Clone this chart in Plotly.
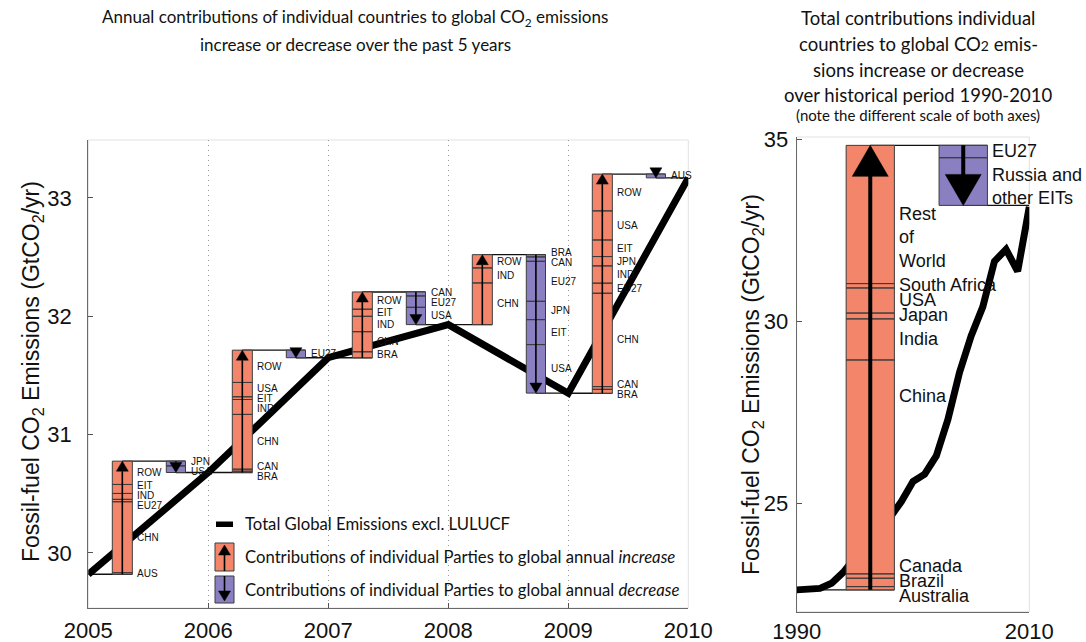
import plotly.graph_objects as go

W, H = 1086, 642

# ---------------- DATA : left panel (annual, GtCO2/yr) ----------------
years = [2005, 2006, 2007, 2008, 2009, 2010]
total_left = [29.82, 30.68, 31.65, 31.93, 31.35, 33.17]

# increases listed bottom -> top, decreases listed top -> bottom
inc_names_2005 = ["AUS", "CHN", "EU27", "IND", "EIT", "ROW"]
inc_vals_2005 = [0.013, 0.600, 0.020, 0.050, 0.076, 0.197]
dec_names_2005 = ["JPN", "USA"]
dec_vals_2005 = [0.040, 0.056]

inc_names_2006 = ["BRA", "CAN", "CHN", "IND", "EIT", "USA", "ROW"]
inc_vals_2006 = [0.011, 0.017, 0.463, 0.126, 0.023, 0.121, 0.273]
dec_names_2006 = ["EU27"]
dec_vals_2006 = [0.064]

inc_names_2007 = ["BRA", "CHN", "IND", "EIT", "ROW"]
inc_vals_2007 = [0.050, 0.170, 0.130, 0.060, 0.146]
dec_names_2007 = ["CAN", "EU27", "USA"]
dec_vals_2007 = [0.034, 0.096, 0.146]

inc_names_2008 = ["CHN", "IND", "ROW"]
inc_vals_2008 = [0.352, 0.127, 0.112]
dec_names_2008 = ["BRA", "CAN", "EU27", "JPN", "EIT", "USA"]
dec_vals_2008 = [0.019, 0.037, 0.338, 0.155, 0.211, 0.410]

inc_names_2009 = ["BRA", "CAN", "CHN", "EU27", "IND", "JPN", "EIT", "USA", "ROW"]
inc_vals_2009 = [0.033, 0.023, 0.789, 0.085, 0.146, 0.079, 0.140, 0.246, 0.311]
dec_names_2009 = ["AUS"]
dec_vals_2009 = [0.032]

# ---------------- DATA : right panel (1990-2010) ----------------
hist_years = list(range(1990, 2011))
hist_total = [22.62, 22.62, 22.66, 22.80, 23.10, 23.50, 23.90, 24.30, 24.60, 25.05,
              25.60, 25.80, 26.30, 27.30, 28.60, 29.60, 30.40, 31.65, 31.98, 31.38, 33.15]

tot_inc_names = ["Australia", "Brazil", "Canada", "China", "India", "Japan", "USA",
                 "South Africa", "Rest<br>of<br>World"]
tot_inc_vals = [0.09, 0.23, 0.12, 5.88, 1.13, 0.16, 0.69, 0.12, 3.80]
tot_dec_names = ["EU27", "Russia and<br>other EITs"]
tot_dec_vals = [0.34, 1.31]

left_ticks_y = [30, 31, 32, 33]
right_ticks_y = [25, 30, 35]
right_ticks_x = [1990, 2010]

# ---------------- STYLE / LAYOUT ----------------
ORANGE = "#F3866A"
PURPLE = "#8A80C1"
EDGE = "#3c3c3c"
AXFONT = "Liberation Sans"
TITLEFONT = "Lato"

L_PX = (88.3, 688.3)   # x pixel extent of left plot
L_PY = (140, 608)      # y pixel extent (top, bottom)
L_RANGE_X = [2005, 2010]
L_RANGE_Y = [29.535, 33.49]
R_PX = (796.7, 1029.3)
R_PY = (137, 611.7)
R_RANGE_X = [1990, 2010]
R_RANGE_Y = [22.02, 35.07]

ppu_L = (L_PY[1] - L_PY[0]) / (L_RANGE_Y[1] - L_RANGE_Y[0])
ppx_L = (L_PX[1] - L_PX[0]) / (L_RANGE_X[1] - L_RANGE_X[0])
ppu_R = (R_PY[1] - R_PY[0]) / (R_RANGE_Y[1] - R_RANGE_Y[0])
ppx_R = (R_PX[1] - R_PX[0]) / (R_RANGE_X[1] - R_RANGE_X[0])

INC_OFF = (0.20, 0.367)   # bar extent as fraction of year after the year
DEC_OFF = (0.65, 0.81)
R_INC_X = (1994.25, 1998.4)
R_DEC_X = (2002.24, 2006.4)

inc_names = [inc_names_2005, inc_names_2006, inc_names_2007, inc_names_2008, inc_names_2009]
inc_vals = [inc_vals_2005, inc_vals_2006, inc_vals_2007, inc_vals_2008, inc_vals_2009]
dec_names = [dec_names_2005, dec_names_2006, dec_names_2007, dec_names_2008, dec_names_2009]
dec_vals = [dec_vals_2005, dec_vals_2006, dec_vals_2007, dec_vals_2008, dec_vals_2009]


def spread(desired, above, below):
    """De-overlap label positions (coordinate increasing downward)."""
    n = len(desired)
    order = sorted(range(n), key=lambda i: desired[i])
    clusters = []
    for i in order:
        clusters.append({"m": [i], "off": [0.0], "a": desired[i]})
        while len(clusters) > 1:
            p, q = clusters[-2], clusters[-1]
            pb = p["a"] + p["off"][-1] + below[p["m"][-1]]
            qt = q["a"] + q["off"][0] - above[q["m"][0]]
            if pb <= qt:
                break
            m = p["m"] + q["m"]
            off = [0.0]
            for k in range(1, len(m)):
                off.append(off[-1] + below[m[k - 1]] + above[m[k]])
            a = sum(desired[m[k]] - off[k] for k in range(len(m))) / len(m)
            clusters[-2:] = [{"m": m, "off": off, "a": a}]
    pos = [0.0] * n
    for c in clusters:
        for k, i in enumerate(c["m"]):
            pos[i] = c["a"] + c["off"][k]
    return pos


def segments(start, vals, up):
    segs = []
    cur = start
    for v in vals:
        nxt = cur + v if up else cur - v
        segs.append((min(cur, nxt), max(cur, nxt)))
        cur = nxt
    return segs, cur


fig = go.Figure()
annotations = []
shapes = []

poly = {"x": {"orange": [], "purple": []}, "y": {"orange": [], "purple": []}}
poly_r = {"x": {"orange": [], "purple": []}, "y": {"orange": [], "purple": []}}
conn_x, conn_y = [], []
stem_x, stem_y = [], []
head_x, head_y = [], []
conn_rx, conn_ry = [], []
stem_rx, stem_ry = [], []
head_rx, head_ry = [], []


def add_poly(store, key, x0, x1, y0, y1):
    store["x"][key] += [x0, x1, x1, x0, x0, None]
    store["y"][key] += [y0, y0, y1, y1, y0, None]


# ---------- left panel geometry ----------
HEAD_W_L = 12 / ppx_L
HEAD_H_L = 10 / ppu_L
for i in range(5):
    yr = years[i]
    start = total_left[i]
    ix0, ix1 = yr + INC_OFF[0], yr + INC_OFF[1]
    dx0, dx1 = yr + DEC_OFF[0], yr + DEC_OFF[1]
    icx, dcx = (ix0 + ix1) / 2, (dx0 + dx1) / 2
    isegs, top = segments(start, inc_vals[i], True)
    dsegs, end = segments(top, dec_vals[i], False)
    for (a, b) in isegs:
        add_poly(poly, "orange", ix0, ix1, a, b)
    for (a, b) in dsegs:
        add_poly(poly, "purple", dx0, dx1, a, b)
    # connectors
    conn_x += [yr, ix1, None, icx, dx1, None, dcx, years[i + 1], None]
    conn_y += [start, start, None, top, top, None, end, end, None]
    # increase arrow
    stem_x += [icx, icx, None]
    stem_y += [start, top - HEAD_H_L, None]
    head_x += [icx - HEAD_W_L / 2, icx + HEAD_W_L / 2, icx, icx - HEAD_W_L / 2, None]
    head_y += [top - HEAD_H_L, top - HEAD_H_L, top, top - HEAD_H_L, None]
    # decrease arrow
    if top - end > HEAD_H_L:
        stem_x += [dcx, dcx, None]
        stem_y += [top, end + HEAD_H_L, None]
    head_x += [dcx - HEAD_W_L / 2, dcx + HEAD_W_L / 2, dcx, dcx - HEAD_W_L / 2, None]
    head_y += [end + HEAD_H_L, end + HEAD_H_L, end, end + HEAD_H_L, None]
    # labels
    for names, segs, xr in ((inc_names[i], isegs, ix1), (dec_names[i], dsegs, dx1)):
        desired = [-(a + b) / 2 for (a, b) in segs]
        gap = 5.0 / ppu_L
        pos = spread(desired, [gap] * len(segs), [gap] * len(segs))
        for nm, p in zip(names, pos):
            annotations.append(dict(x=xr, y=-p, xref="x", yref="y", text=nm, showarrow=False,
                                    xanchor="left", yanchor="middle", xshift=3, align="left",
                                    font=dict(family=AXFONT, size=10, color="#111")))

# ---------- right panel geometry ----------
HEAD_W_R = 36 / ppx_R
HEAD_H_R = 31 / ppu_R
r_start = hist_total[0]
risegs, rtop = segments(r_start, tot_inc_vals, True)
rdsegs, rend = segments(rtop, tot_dec_vals, False)
for (a, b) in risegs:
    add_poly(poly_r, "orange", R_INC_X[0], R_INC_X[1], a, b)
for (a, b) in rdsegs:
    add_poly(poly_r, "purple", R_DEC_X[0], R_DEC_X[1], a, b)
ricx = (R_INC_X[0] + R_INC_X[1]) / 2
rdcx = (R_DEC_X[0] + R_DEC_X[1]) / 2
conn_rx += [hist_years[0], R_INC_X[1], None, ricx, R_DEC_X[1], None, rdcx, hist_years[-1], None]
conn_ry += [r_start, r_start, None, rtop, rtop, None, rend, rend, None]
stem_rx += [ricx, ricx, None, rdcx, rdcx, None]
stem_ry += [r_start, rtop - HEAD_H_R * 0.9, None, rtop, rend + HEAD_H_R * 0.9, None]
head_rx += [ricx - HEAD_W_R / 2, ricx + HEAD_W_R / 2, ricx, ricx - HEAD_W_R / 2, None,
            rdcx - HEAD_W_R / 2, rdcx + HEAD_W_R / 2, rdcx, rdcx - HEAD_W_R / 2, None]
head_ry += [rtop - HEAD_H_R, rtop - HEAD_H_R, rtop, rtop - HEAD_H_R, None,
            rend + HEAD_H_R, rend + HEAD_H_R, rend, rend + HEAD_H_R, None]

R_LH = 18 * 1.2
R_LABEL_NUDGE_PX = {"China": -70, "Russia and<br>other EITs": -6}
for names, segs, xr in ((tot_inc_names, risegs, R_INC_X[1]), (tot_dec_names, rdsegs, R_DEC_X[1])):
    desired = [-(a + b) / 2 for (a, b) in segs]
    above = [7.5 / ppu_R] * len(segs)
    below = [(7.5 + R_LH * nm.count("<br>")) / ppu_R for nm in names]
    pos = spread(desired, above, below)
    for nm, p in zip(names, pos):
        annotations.append(dict(x=xr, y=-p, xref="x2", yref="y2", text=nm, showarrow=False,
                                xanchor="left", yanchor="top", xshift=3, align="left",
                                yshift=R_LH / 2 + 2 - R_LABEL_NUDGE_PX.get(nm, 0),
                                font=dict(family=AXFONT, size=18, color="#111")))

# ---------- traces : left ----------
fig.add_trace(go.Scatter(x=conn_x, y=conn_y, mode="lines", line=dict(color="#111", width=1.4),
                         xaxis="x", yaxis="y", hoverinfo="skip", showlegend=False))
fig.add_trace(go.Scatter(x=years, y=total_left, mode="lines", line=dict(color="black", width=7),
                         xaxis="x", yaxis="y", showlegend=False))
for key, col in (("orange", ORANGE), ("purple", PURPLE)):
    fig.add_trace(go.Scatter(x=poly["x"][key], y=poly["y"][key], mode="lines", fill="toself",
                             fillcolor=col, line=dict(color=EDGE, width=1), xaxis="x", yaxis="y",
                             hoverinfo="skip", showlegend=False))
fig.add_trace(go.Scatter(x=stem_x, y=stem_y, mode="lines", line=dict(color="black", width=1.6),
                         xaxis="x", yaxis="y", hoverinfo="skip", showlegend=False))
fig.add_trace(go.Scatter(x=head_x, y=head_y, mode="lines", fill="toself", fillcolor="black",
                         line=dict(color="black", width=0.5), xaxis="x", yaxis="y",
                         hoverinfo="skip", showlegend=False))

# ---------- traces : right ----------
fig.add_trace(go.Scatter(x=conn_rx, y=conn_ry, mode="lines", line=dict(color="#111", width=1.4),
                         xaxis="x2", yaxis="y2", hoverinfo="skip", showlegend=False))
fig.add_trace(go.Scatter(x=hist_years, y=hist_total, mode="lines", line=dict(color="black", width=7),
                         xaxis="x2", yaxis="y2", showlegend=False))
for key, col in (("orange", ORANGE), ("purple", PURPLE)):
    fig.add_trace(go.Scatter(x=poly_r["x"][key], y=poly_r["y"][key], mode="lines", fill="toself",
                             fillcolor=col, line=dict(color=EDGE, width=1), xaxis="x2", yaxis="y2",
                             hoverinfo="skip", showlegend=False))
fig.add_trace(go.Scatter(x=stem_rx, y=stem_ry, mode="lines", line=dict(color="black", width=4),
                         xaxis="x2", yaxis="y2", hoverinfo="skip", showlegend=False))
fig.add_trace(go.Scatter(x=head_rx, y=head_ry, mode="lines", fill="toself", fillcolor="black",
                         line=dict(color="black", width=0.5), xaxis="x2", yaxis="y2",
                         hoverinfo="skip", showlegend=False))


def px_x(p):
    return p / W


def px_y(p):
    return 1 - p / H


# faint boxes around plots
for xr, yr in (("x domain", "y domain"), ("x2 domain", "y2 domain")):
    shapes.append(dict(type="rect", xref=xr, yref=yr, x0=0, x1=1, y0=0, y1=1,
                       line=dict(color="#e2e2e2", width=1), layer="below"))

# ---------- custom legend ----------
shapes.append(dict(type="rect", xref="paper", yref="paper", x0=px_x(216), x1=px_x(233),
                   y0=px_y(527), y1=px_y(521.5), fillcolor="black", line=dict(width=0)))
for (ytop, ybot, col, up) in ((543, 571, ORANGE, True), (576, 603, PURPLE, False)):
    shapes.append(dict(type="rect", xref="paper", yref="paper", x0=px_x(215), x1=px_x(234),
                       y0=px_y(ybot), y1=px_y(ytop), fillcolor=col, line=dict(color=EDGE, width=1)))
    cx = 224.5
    if up:
        shapes.append(dict(type="line", xref="paper", yref="paper", x0=px_x(cx), x1=px_x(cx),
                           y0=px_y(ybot), y1=px_y(ytop + 10), line=dict(color="black", width=1.6)))
        path = "M {},{} L {},{} L {},{} Z".format(px_x(cx - 6), px_y(ytop + 12), px_x(cx + 6),
                                                  px_y(ytop + 12), px_x(cx), px_y(ytop + 2))
    else:
        shapes.append(dict(type="line", xref="paper", yref="paper", x0=px_x(cx), x1=px_x(cx),
                           y0=px_y(ytop), y1=px_y(ybot - 10), line=dict(color="black", width=1.6)))
        path = "M {},{} L {},{} L {},{} Z".format(px_x(cx - 6), px_y(ybot - 12), px_x(cx + 6),
                                                  px_y(ybot - 12), px_x(cx), px_y(ybot - 2))
    shapes.append(dict(type="path", xref="paper", yref="paper", path=path, fillcolor="black",
                       line=dict(color="black", width=0.5)))

legend_texts = ["Total Global Emissions excl. LULUCF",
                "Contributions of individual Parties to global annual <i>increase</i>",
                "Contributions of individual Parties to global annual <i>decrease</i>"]
for t, yy in zip(legend_texts, (524, 557, 590)):
    annotations.append(dict(x=px_x(243), y=px_y(yy), xref="paper", yref="paper", text=t,
                            showarrow=False, xanchor="left", yanchor="middle",
                            font=dict(family=TITLEFONT, size=16.7, color="#111")))

# ---------- titles ----------
left_title = ["Annual contributions of individual countries to global CO<sub>2</sub> emissions",
              "increase or decrease over the past 5 years"]
for t, yy in zip(left_title, (18, 44)):
    annotations.append(dict(x=px_x(355), y=px_y(yy), xref="paper", yref="paper", text=t,
                            showarrow=False, xanchor="center", yanchor="middle",
                            font=dict(family=TITLEFONT, size=17, color="#111")))
right_title = ["Total contributions individual",
               "countries to global CO<span style='font-size:14px'>2</span> emis-",
               "sions increase or decrease",
               "over historical period 1990-2010"]
for t, yy in zip(right_title, (18, 44, 70, 95)):
    annotations.append(dict(x=px_x(918), y=px_y(yy), xref="paper", yref="paper", text=t,
                            showarrow=False, xanchor="center", yanchor="middle",
                            font=dict(family=TITLEFONT, size=18.5, color="#111")))
annotations.append(dict(x=px_x(918), y=px_y(115), xref="paper", yref="paper",
                        text="(note the different scale of both axes)", showarrow=False,
                        xanchor="center", yanchor="middle",
                        font=dict(family=TITLEFONT, size=15, color="#111")))

ytitle = "Fossil-fuel CO<sub>2</sub> Emissions (GtCO<sub>2</sub>/yr)"
annotations.append(dict(x=px_x(33), y=px_y(372), xref="paper", yref="paper", text=ytitle,
                        textangle=-90, showarrow=False, xanchor="center", yanchor="middle",
                        font=dict(family=AXFONT, size=23, color="#111")))
annotations.append(dict(x=px_x(752), y=px_y(385), xref="paper", yref="paper", text=ytitle,
                        textangle=-90, showarrow=False, xanchor="center", yanchor="middle",
                        font=dict(family=AXFONT, size=23, color="#111")))

axis_common = dict(showline=True, linecolor="#6a6a6a", linewidth=1.2, ticks="inside",
                   tickcolor="#555", ticklen=5, zeroline=False, automargin=False,
                   tickfont=dict(family=AXFONT, size=22, color="#111"))

fig.update_layout(
    width=W, height=H, margin=dict(l=0, r=0, t=0, b=0, autoexpand=False),
    paper_bgcolor="white", plot_bgcolor="white", showlegend=False,
    font=dict(family=AXFONT),
    xaxis=dict(domain=[px_x(L_PX[0]), px_x(L_PX[1])], range=L_RANGE_X, tickvals=years,
               showgrid=True, gridcolor="#9a9a9a", griddash="1px,4px", gridwidth=1.3,
               anchor="y", ticklabelstandoff=2, **axis_common),
    yaxis=dict(domain=[px_y(L_PY[1]), px_y(L_PY[0])], range=L_RANGE_Y, tickvals=left_ticks_y,
               showgrid=False, anchor="x", ticklabelstandoff=11, **axis_common),
    xaxis2=dict(domain=[px_x(R_PX[0]), px_x(R_PX[1])], range=R_RANGE_X, tickvals=right_ticks_x,
                showgrid=False, anchor="y2", ticklabelstandoff=0, **axis_common),
    yaxis2=dict(domain=[px_y(R_PY[1]), px_y(R_PY[0])], range=R_RANGE_Y, tickvals=right_ticks_y,
                showgrid=False, anchor="x2", ticklabelstandoff=3, **axis_common),
    annotations=annotations, shapes=shapes,
)

fig.write_html("out.html", config={"displayModeBar": False},
               post_script="document.body.style.margin='0';document.body.style.overflow='hidden';")
